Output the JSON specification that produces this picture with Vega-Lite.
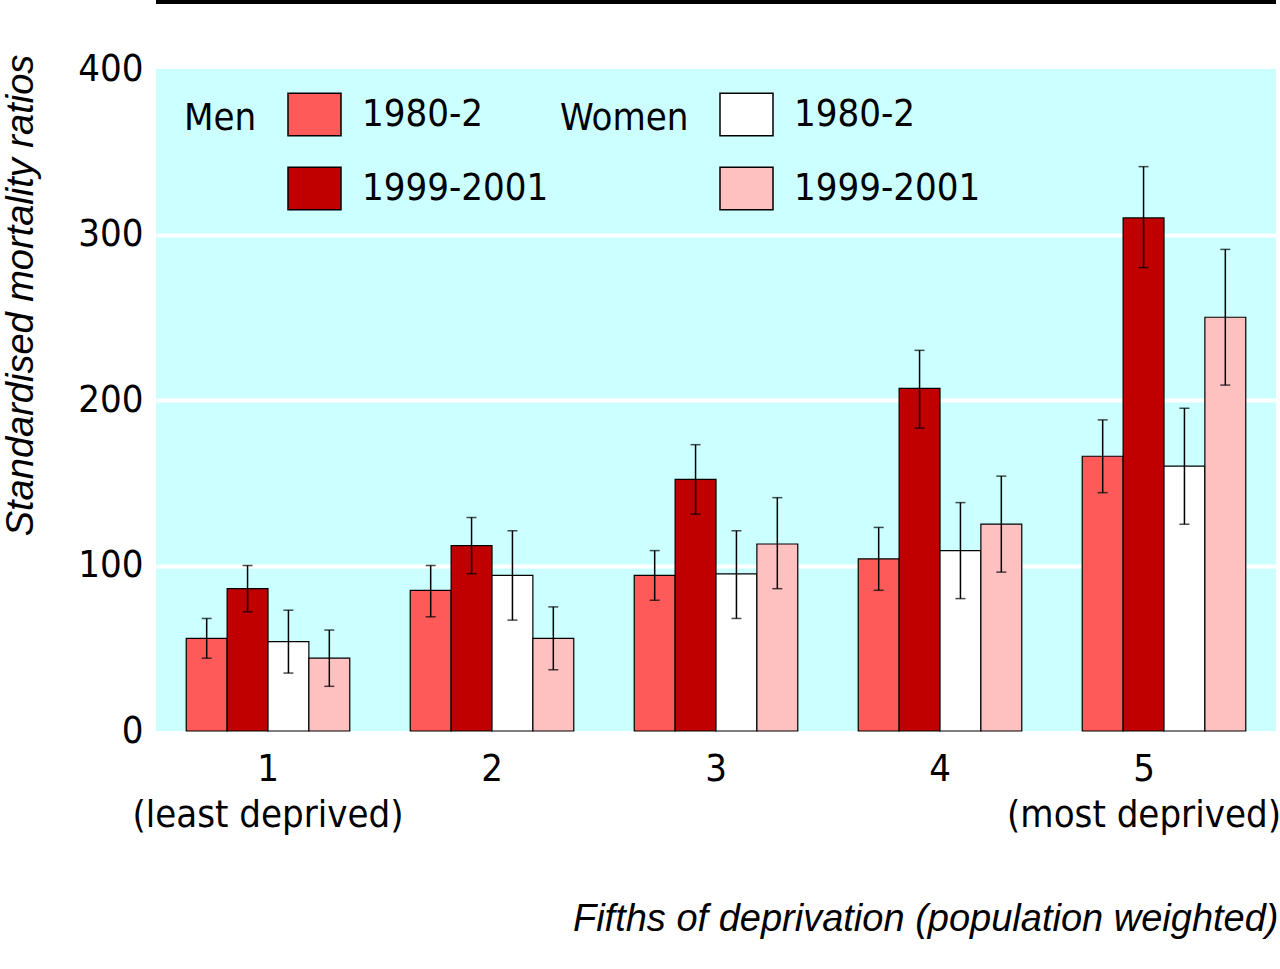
{
  "$schema": "https://vega.github.io/schema/vega-lite/v6.json",
  "width": 1120,
  "height": 662,
  "autosize": {"type": "none"},
  "padding": {"left": 156, "top": 69, "right": 4, "bottom": 238},
  "background": "white",
  "config": {
    "view": {"fill": "#CCFFFF", "stroke": null},
    "font": "DejaVu Sans Condensed, sans-serif"
  },
  "data": {
    "values": [
      {"fifth": 1, "sex": "Men", "period": "1980-2", "series": "Men 1980-2", "smr": 56, "lo": 44, "hi": 68},
      {"fifth": 1, "sex": "Men", "period": "1999-2001", "series": "Men 1999-2001", "smr": 86, "lo": 72, "hi": 100},
      {"fifth": 1, "sex": "Women", "period": "1980-2", "series": "Women 1980-2", "smr": 54, "lo": 35, "hi": 73},
      {"fifth": 1, "sex": "Women", "period": "1999-2001", "series": "Women 1999-2001", "smr": 44, "lo": 27, "hi": 61},
      {"fifth": 2, "sex": "Men", "period": "1980-2", "series": "Men 1980-2", "smr": 85, "lo": 69, "hi": 100},
      {"fifth": 2, "sex": "Men", "period": "1999-2001", "series": "Men 1999-2001", "smr": 112, "lo": 95, "hi": 129},
      {"fifth": 2, "sex": "Women", "period": "1980-2", "series": "Women 1980-2", "smr": 94, "lo": 67, "hi": 121},
      {"fifth": 2, "sex": "Women", "period": "1999-2001", "series": "Women 1999-2001", "smr": 56, "lo": 37, "hi": 75},
      {"fifth": 3, "sex": "Men", "period": "1980-2", "series": "Men 1980-2", "smr": 94, "lo": 79, "hi": 109},
      {"fifth": 3, "sex": "Men", "period": "1999-2001", "series": "Men 1999-2001", "smr": 152, "lo": 131, "hi": 173},
      {"fifth": 3, "sex": "Women", "period": "1980-2", "series": "Women 1980-2", "smr": 95, "lo": 68, "hi": 121},
      {"fifth": 3, "sex": "Women", "period": "1999-2001", "series": "Women 1999-2001", "smr": 113, "lo": 86, "hi": 141},
      {"fifth": 4, "sex": "Men", "period": "1980-2", "series": "Men 1980-2", "smr": 104, "lo": 85, "hi": 123},
      {"fifth": 4, "sex": "Men", "period": "1999-2001", "series": "Men 1999-2001", "smr": 207, "lo": 183, "hi": 230},
      {"fifth": 4, "sex": "Women", "period": "1980-2", "series": "Women 1980-2", "smr": 109, "lo": 80, "hi": 138},
      {"fifth": 4, "sex": "Women", "period": "1999-2001", "series": "Women 1999-2001", "smr": 125, "lo": 96, "hi": 154},
      {"fifth": 5, "sex": "Men", "period": "1980-2", "series": "Men 1980-2", "smr": 166, "lo": 144, "hi": 188},
      {"fifth": 5, "sex": "Men", "period": "1999-2001", "series": "Men 1999-2001", "smr": 310, "lo": 280, "hi": 341},
      {"fifth": 5, "sex": "Women", "period": "1980-2", "series": "Women 1980-2", "smr": 160, "lo": 125, "hi": 195},
      {"fifth": 5, "sex": "Women", "period": "1999-2001", "series": "Women 1999-2001", "smr": 250, "lo": 209, "hi": 291}
    ]
  },
  "layer": [
    {
      "transform": [{"filter": "datum.sex == 'Men'"}],
      "mark": {"type": "bar", "stroke": "black", "strokeWidth": 1.2},
      "encoding": {
        "x": {
          "field": "fifth", "type": "ordinal",
          "scale": {"paddingInner": 0.27, "paddingOuter": 0.135},
          "axis": {
            "title": "Fifths of deprivation (population weighted)",
            "titleFont": "Liberation Sans, sans-serif",
            "titleFontStyle": "italic",
            "titleFontWeight": "normal",
            "titleFontSize": 38,
            "titleColor": "black",
            "titleAlign": "right",
            "titleAnchor": "end",
            "titleBaseline": "alphabetic",
            "titleX": 1122,
            "titleY": 199,
            "labelAngle": 0,
            "labelFontSize": 38,
            "labelColor": "black",
            "labelBaseline": "top",
            "labelPadding": 19,
            "labelLineHeight": 46,
            "labelLimit": 0,
            "labelOffset": {"condition": {"test": "datum.value == 5", "value": -20}, "value": 0},
            "labelExpr": "datum.value == 1 ? ['1', '(least deprived)'] : datum.value == 5 ? ['5', '(most deprived)'] : datum.label",
            "ticks": false,
            "domain": false
          }
        },
        "xOffset": {
          "field": "series", "type": "nominal",
          "scale": {"domain": ["Men 1980-2", "Men 1999-2001", "Women 1980-2", "Women 1999-2001"], "paddingInner": 0, "paddingOuter": 0}
        },
        "y": {
          "field": "smr", "type": "quantitative",
          "scale": {"domain": [0, 400], "nice": false},
          "axis": {
            "values": [0, 100, 200, 300, 400],
            "title": "Standardised mortality ratios",
            "titleFont": "Liberation Sans, sans-serif",
            "titleFontStyle": "italic",
            "titleFontWeight": "normal",
            "titleFontSize": 38,
            "titleColor": "black",
            "titleAngle": 270,
            "titleAlign": "center",
            "titleBaseline": "middle",
            "titleX": -135,
            "titleY": 226,
            "labelFontSize": 38,
            "labelColor": "black",
            "labelPadding": 13,
            "labelLimit": 0,
            "ticks": false,
            "domain": false,
            "grid": true,
            "gridColor": {"condition": {"test": "datum.value == 0 || datum.value == 400", "value": "transparent"}, "value": "white"},
            "gridWidth": 4,
            "gridOpacity": 1
          }
        },
        "fill": {
          "field": "period", "type": "nominal",
          "scale": {"domain": ["1980-2", "1999-2001"], "range": ["#FF5A5A", "#C00000"]},
          "legend": {
            "title": "Men",
            "orient": "none",
            "legendX": 28,
            "legendY": 18,
            "padding": 0,
            "titleOrient": "left",
            "titleAnchor": "start",
            "titleBaseline": "line-top",
            "titleLineHeight": 64,
            "titleFontSize": 38,
            "titleFontWeight": "normal",
            "titleColor": "black",
            "titlePadding": 30,
            "labelFontSize": 38,
            "labelColor": "black",
            "labelOffset": 20,
            "labelLimit": 0,
            "symbolType": "M-1,-0.8H1V0.8H-1Z",
            "symbolSize": 2809,
            "symbolStrokeColor": "black",
            "symbolStrokeWidth": 1.5,
            "symbolOpacity": 1,
            "rowPadding": 22
          }
        }
      }
    },
    {
      "transform": [{"filter": "datum.sex == 'Women'"}],
      "mark": {"type": "bar", "stroke": "black", "strokeWidth": 1.2},
      "encoding": {
        "x": {"field": "fifth", "type": "ordinal"},
        "xOffset": {"field": "series", "type": "nominal"},
        "y": {"field": "smr", "type": "quantitative"},
        "fill": {
          "field": "period", "type": "nominal",
          "scale": {"domain": ["1980-2", "1999-2001"], "range": ["#FFFFFF", "#FFC0C0"]},
          "legend": {
            "title": "Women",
            "orient": "none",
            "legendX": 404,
            "legendY": 18,
            "padding": 0,
            "titleOrient": "left",
            "titleAnchor": "start",
            "titleBaseline": "line-top",
            "titleLineHeight": 64,
            "titleFontSize": 38,
            "titleFontWeight": "normal",
            "titleColor": "black",
            "titlePadding": 30,
            "labelFontSize": 38,
            "labelColor": "black",
            "labelOffset": 20,
            "labelLimit": 0,
            "symbolType": "M-1,-0.8H1V0.8H-1Z",
            "symbolSize": 2809,
            "symbolStrokeColor": "black",
            "symbolStrokeWidth": 1.5,
            "symbolOpacity": 1,
            "rowPadding": 22
          }
        }
      }
    },
    {
      "mark": {"type": "rule", "color": "black", "strokeWidth": 1.5},
      "encoding": {
        "x": {"field": "fifth", "type": "ordinal"},
        "xOffset": {"field": "series", "type": "nominal"},
        "y": {"field": "lo", "type": "quantitative"},
        "y2": {"field": "hi"}
      }
    },
    {
      "mark": {"type": "tick", "color": "black", "size": 10, "thickness": 1.5, "orient": "horizontal"},
      "encoding": {
        "x": {"field": "fifth", "type": "ordinal"},
        "xOffset": {"field": "series", "type": "nominal"},
        "y": {"field": "lo", "type": "quantitative"}
      }
    },
    {
      "mark": {"type": "tick", "color": "black", "size": 10, "thickness": 1.5, "orient": "horizontal"},
      "encoding": {
        "x": {"field": "fifth", "type": "ordinal"},
        "xOffset": {"field": "series", "type": "nominal"},
        "y": {"field": "hi", "type": "quantitative"}
      }
    },
    {
      "mark": {"type": "rule", "color": "black", "strokeWidth": 4, "clip": false},
      "encoding": {
        "y": {"datum": 440.8, "type": "quantitative"}
      }
    }
  ],
  "resolve": {"scale": {"fill": "independent"}}
}
